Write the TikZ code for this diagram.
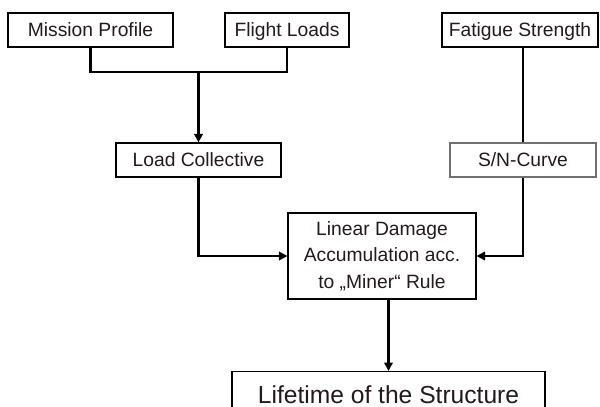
\documentclass[tikz,border=0pt]{standalone}
\usepackage{fontspec}
\setmainfont{Liberation Sans}
\usetikzlibrary{arrows.meta}
\definecolor{textdark}{HTML}{221A1C}
\definecolor{framegray}{HTML}{707070}

\begin{document}
\begin{tikzpicture}[
        x=0.025cm, y=-0.025cm,
        font=\fontsize{13.7}{18.85}\selectfont,
        frame/.style={draw, line width=0.8pt, align=center, inner sep=0pt, text=textdark},
        block/.style={frame, text height=9.8pt, text depth=0pt, minimum height=0.85cm},
        tallblock/.style={frame, minimum height=2.15cm},
        bigblock/.style={frame, font=\fontsize{17.5}{21}\selectfont},
        line/.style={line width=1.6pt},
        arrow/.style={line width=1.6pt, -{Triangle[length=6pt,width=6pt]}}
    ]
    \clip (0,0) rectangle (600,407);

    % EINGANGSDATEN
    \node[block, minimum width=4.125cm] (mission) at (90.5,30) {Mission Profile};
    \node[block, minimum width=3.1cm] (flight) at (287,30) {Flight Loads};
    \node[block, minimum width=3.9cm] (fatigue) at (520,30) {Fatigue Strength};

    % ZWISCHENERGEBNISSE
    \node[block, minimum width=4.125cm] (collective) at (198.5,160) {Load Collective};
    \node[block, draw=framegray, minimum width=3.65cm] (sncurve) at (523,160) {S/N-Curve};

    % SCHADENSAKKUMULATION
    \node[tallblock, minimum width=4.7cm] (miner) at (382,256)
        {Linear Damage\\ Accumulation acc.\\ to „Miner“ Rule};

    % ERGEBNIS
    \node[bigblock, anchor=north, minimum width=7.825cm, minimum height=1.175cm] (lifetime) at (388.5,371)
        {Lifetime of the Structure};

    % VERBINDUNGEN
    \coordinate (join) at (198.5,72);
    \draw[line] (mission.south) |- (join) -| (flight.south);
    \draw[arrow] (join) -- (collective.north);
    \draw[line] (fatigue.south -| sncurve.north) -- (sncurve.north);

    % Eingaenge der Akkumulation
    \draw[arrow] (collective.south) |- (miner.west);
    \draw[arrow] (sncurve.south) |- (miner.east);

    % Lebensdauer
    \draw[arrow] (miner.south -| lifetime.north) -- (lifetime.north);

\end{tikzpicture}
\end{document}
